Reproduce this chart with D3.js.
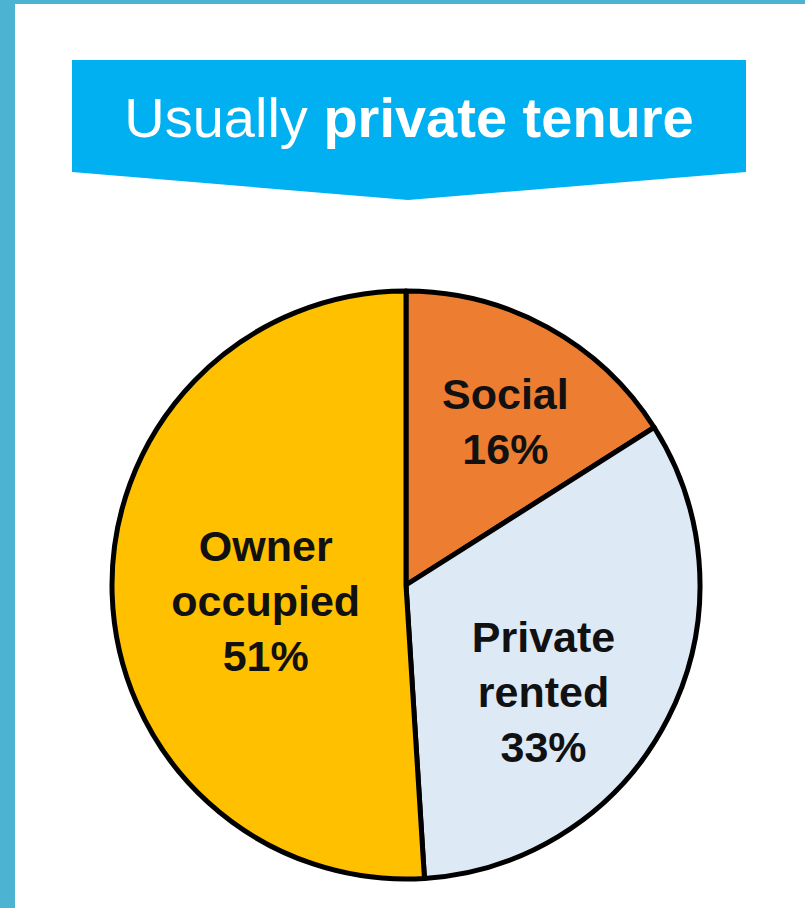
<!DOCTYPE html>
<html>
<head>
<meta charset="utf-8">
<script src="https://cdn.jsdelivr.net/npm/d3@7.9.0/dist/d3.min.js"></script>
<style>
  body { margin: 0; background: #fff; }
  svg { display: block; font-family: "Liberation Sans", Arial, sans-serif; }
</style>
</head>
<body>
<svg id="chart" width="805" height="908"></svg>
<script>
const categories = ['Social', 'Private rented', 'Owner occupied'];
const labelLines = [['Social'], ['Private', 'rented'], ['Owner', 'occupied']];
const values = [16, 33, 51];
const colors = ['#ED7D31', '#DEE9F6', '#FFC000'];

const svg = d3.select('#chart');

// frame
svg.append('rect').attr('x', 0).attr('y', 0).attr('width', 805).attr('height', 4).attr('fill', '#4DB3D3');
svg.append('rect').attr('x', 0).attr('y', 0).attr('width', 15).attr('height', 908).attr('fill', '#4DB3D3');

// banner
svg.append('path')
    .attr('d', 'M72,60 L746,60 L746,172 L408,200 L72,172 Z')
    .attr('fill', '#00B0F0');

let title = svg.append('text')
    .attr('x', 409)
    .attr('y', 137)
    .attr('text-anchor', 'middle')
    .attr('fill', '#fff')
    .attr('font-size', 56);
title.append('tspan').text('Usually ');
title.append('tspan').attr('font-weight', 'bold').text('private tenure');

// pie
const cx = 406, cy = 585, r = 294;
let g = svg.append('g').attr('transform', `translate(${cx},${cy})`);

let pie = d3.pie().sort(null);
let arcData = pie(values);
let arcGenerator = d3.arc().innerRadius(0).outerRadius(r);

g.selectAll('path.slice')
    .data(arcData)
    .join('path')
    .attr('class', 'slice')
    .attr('d', arcGenerator)
    .attr('fill', (d, i) => colors[i])
    .attr('stroke', '#000')
    .attr('stroke-width', 5)
    .attr('stroke-linejoin', 'round');

// labels: centroid of a smaller arc, nudged a little
let labelArc = d3.arc().innerRadius(0).outerRadius(r * 1.05);
const nudge = [[25, -28], [0, 37], [14, 11]];
const lineH = 55;

arcData.forEach((d, i) => {
    let [x, y] = labelArc.centroid(d);
    x += nudge[i][0];
    y += nudge[i][1];
    let lines = labelLines[i].concat([values[i] + '%']);
    let t = g.append('text')
        .attr('text-anchor', 'middle')
        .attr('font-size', 43)
        .attr('font-weight', 'bold')
        .attr('fill', '#111');
    lines.forEach((s, k) => {
        t.append('tspan')
            .attr('x', x)
            .attr('y', y + (k - (lines.length - 1) / 2) * lineH + 15)
            .text(s);
    });
});
</script>
</body>
</html>
